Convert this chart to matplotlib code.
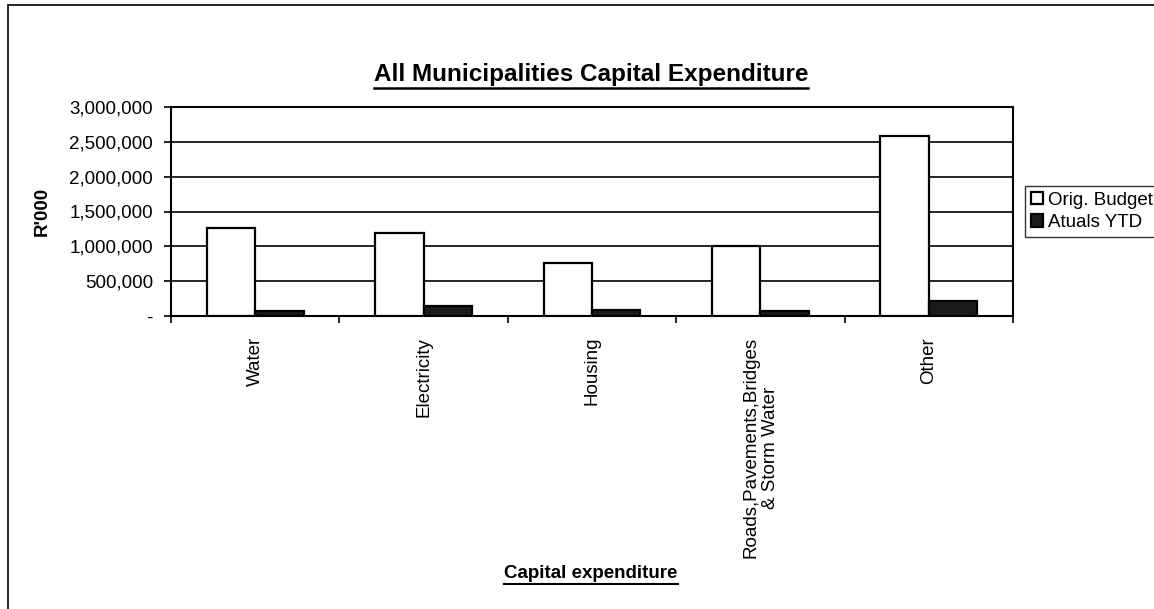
import matplotlib
matplotlib.use("Agg")
import matplotlib.pyplot as plt
import numpy as np
from matplotlib.lines import Line2D
from matplotlib.patches import Rectangle
from matplotlib.ticker import FuncFormatter, MultipleLocator

plt.rcParams['font.family'] = ['Liberation Sans', 'DejaVu Sans']

categories = ["Water", "Electricity", "Housing",
              "Roads,Pavements,Bridges\n& Storm Water", "Other"]
orig_budget = [1260000, 1190000, 760000, 1000000, 2590000]
actuals_ytd = [66000, 138000, 80000, 76000, 218000]
series_names = ["Orig. Budget", "Atuals YTD"]

W, H = 1154, 609
fig = plt.figure(figsize=(W / 100, H / 100), dpi=100)
ax = fig.add_axes([171 / W, 1 - 316 / H, (1013 - 171) / W, (316 - 107) / H])

x = np.arange(len(categories))
bw = 0.288
ax.bar(x - bw / 2, orig_budget, bw, color="white", edgecolor="black",
       linewidth=1.6, label=series_names[0], zorder=3)
ax.bar(x + bw / 2, actuals_ytd, bw, color="#1a1a1a", edgecolor="black",
       linewidth=1.6, label=series_names[1], zorder=3)

ax.set_xlim(-0.5, len(categories) - 0.5)
ax.set_ylim(0, 3000000)
ax.yaxis.set_major_locator(MultipleLocator(500000))
ax.yaxis.set_major_formatter(FuncFormatter(lambda v, p: "-" if v == 0 else f"{int(v):,}"))
ax.grid(axis="y", color="black", linewidth=1.2, zorder=0)

# labels sit at the category centres, tick marks between categories
ax.set_xticks(x)
ax.set_xticklabels(categories, rotation=90, ha="center", va="top",
                   multialignment="center", fontsize=13.5)
ax.set_xticks(np.arange(len(categories) + 1) - 0.5, minor=True)
ax.tick_params(axis="x", which="major", length=0, pad=15)
ax.tick_params(axis="x", which="minor", length=5, width=1.2, direction="out")
ax.tick_params(axis="y", length=5, width=1.2, labelsize=13.5, pad=8)
for s in ax.spines.values():
    s.set_linewidth(1.5)
    s.set_color("black")

ax.set_ylabel("R'000", fontsize=13.5, fontweight="bold", labelpad=13)

leg = ax.legend(loc="upper left", bbox_to_anchor=(1025 / W, 1 - 186 / H),
                bbox_transform=fig.transFigure, fontsize=13.5, frameon=True,
                fancybox=False, edgecolor="black", handlelength=0.65,
                handleheight=0.65, handletextpad=0.25, borderpad=0.3,
                labelspacing=0.3, borderaxespad=0)
leg.get_frame().set_linewidth(1.0)

title = fig.text(591 / W, 1 - 75 / H, "All Municipalities Capital Expenditure",
                 ha="center", va="center", fontsize=17.5, fontweight="bold")
xlab = fig.text(591 / W, 1 - 574 / H, "Capital expenditure",
                ha="center", va="center", fontsize=13.5, fontweight="bold")

# underline the two headings
fig.canvas.draw()
r = fig.canvas.get_renderer()
for t, lw in ((title, 1.8), (xlab, 1.5)):
    bb = t.get_window_extent(r)
    y = bb.y0 - 1
    fig.add_artist(Line2D([bb.x0 / W, bb.x1 / W], [y / H, y / H],
                          transform=fig.transFigure, color="black", linewidth=lw))

# outer chart frame (right and bottom edges run off the page)
fig.add_artist(Rectangle((8 / W, -10 / H), (W + 20) / W, (H + 5) / H,
                         transform=fig.transFigure, fill=False,
                         edgecolor="black", linewidth=1.2))

fig.savefig("out.png", dpi=100)
